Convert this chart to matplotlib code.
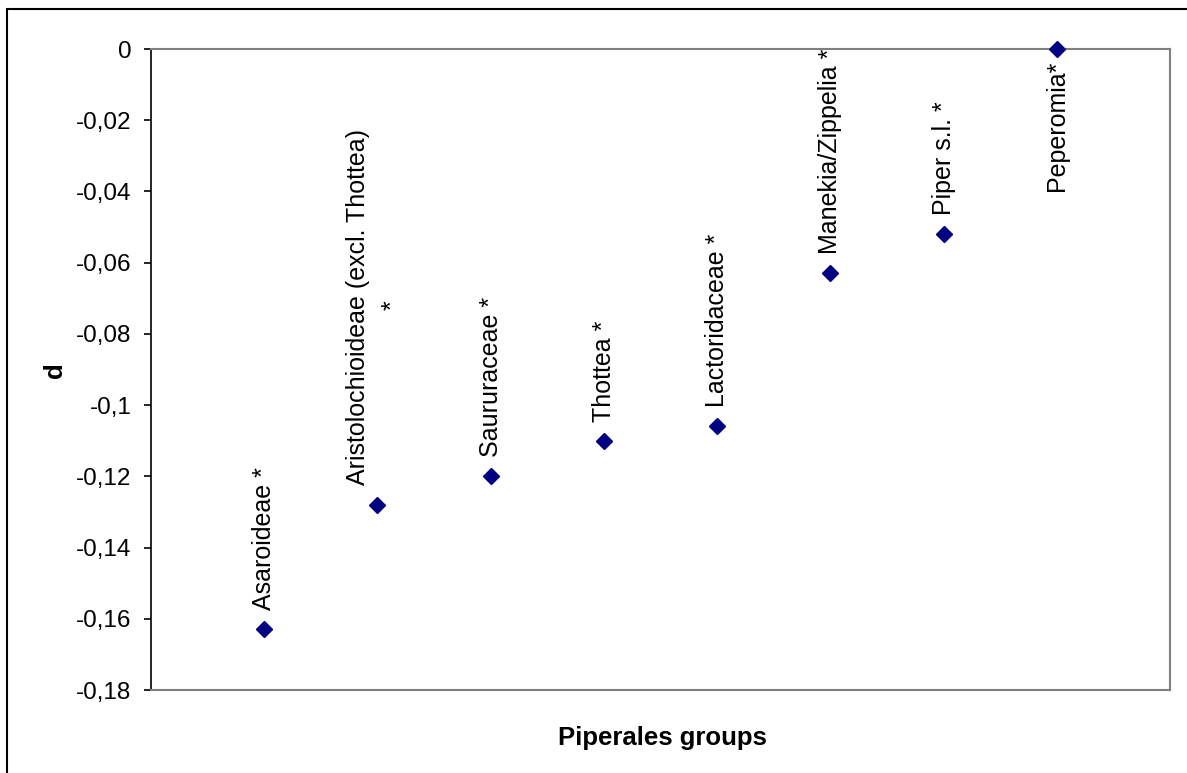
import matplotlib
matplotlib.use("Agg")
import matplotlib.pyplot as plt
from matplotlib.patches import Rectangle
from matplotlib.ticker import MultipleLocator, FuncFormatter

plt.rcParams["font.family"] = ["Liberation Sans", "DejaVu Sans"]

# data
groups = ["Asaroideae", "Aristolochioideae", "Saururaceae", "Thottea",
          "Lactoridaceae", "Manekia/Zippelia", "Piper s.l.", "Peperomia"]
labels = ["Asaroideae *", "Aristolochioideae (excl. Thottea)", "Saururaceae *",
          "Thottea *", "Lactoridaceae *", "Manekia/Zippelia *", "Piper s.l. *",
          "Peperomia*"]
d_values = [-0.163, -0.128, -0.120, -0.110, -0.106, -0.063, -0.052, 0.0]
positions = [1, 2, 3, 4, 5, 6, 7, 8]

W, H = 1187, 773
fig = plt.figure(figsize=(W / 100, H / 100), dpi=100)
ax = fig.add_axes([151 / W, 1 - 690 / H, (1170 - 151) / W, (690 - 49) / H])

# outer chart border
fig.patches.append(Rectangle((7 / W, -0.5), 2, 1.5 - 9 / H, transform=fig.transFigure,
                             fill=False, ec="black", lw=1.5, clip_on=False))

ax.plot(positions, d_values, ls="none", marker="D", ms=8.5, color="#000080",
        clip_on=False, zorder=5)

ax.set_xlim(0, 9)
ax.set_ylim(-0.18, 0)
ax.yaxis.set_major_locator(MultipleLocator(0.02))


def fmt(v, _):
    v = round(v, 2)
    if abs(v) < 1e-9:
        return "0"
    return f"{v:g}".replace(".", ",")


ax.yaxis.set_major_formatter(FuncFormatter(fmt))
ax.set_xticks([])
ax.tick_params(axis="y", labelsize=17.5, length=5, width=1.2, pad=9, colors="black")

for side in ["top", "right", "bottom"]:
    ax.spines[side].set_color("#808080")
    ax.spines[side].set_linewidth(1.5)
ax.spines["left"].set_color("black")
ax.spines["left"].set_linewidth(1.2)

# point labels (vertical)
for i, (x, y, lab) in enumerate(zip(positions, d_values, labels)):
    if y >= 0:
        ax.annotate(lab, (x, y), xytext=(0, -12), textcoords="offset pixels",
                    rotation=90, ha="center", va="top", fontsize=18)
    elif i == 1:
        ax.annotate(lab, (x, y), xytext=(-19, 20), textcoords="offset pixels",
                    rotation=90, ha="center", va="bottom", fontsize=18)
        ax.annotate("*", (x, y), xytext=(15, 200), textcoords="offset pixels",
                    rotation=90, ha="center", va="center", fontsize=18)
    else:
        ax.annotate(lab, (x, y), xytext=(0, 19), textcoords="offset pixels",
                    rotation=90, ha="center", va="bottom", fontsize=18)

fig.text(55 / W, 1 - 370 / H, "d", rotation=90, ha="center", va="center",
         fontsize=18.5, fontweight="bold")
fig.text(662 / W, 1 - 738 / H, "Piperales groups", ha="center", va="center",
         fontsize=18.5, fontweight="bold")

fig.savefig("out.png", dpi=100)
